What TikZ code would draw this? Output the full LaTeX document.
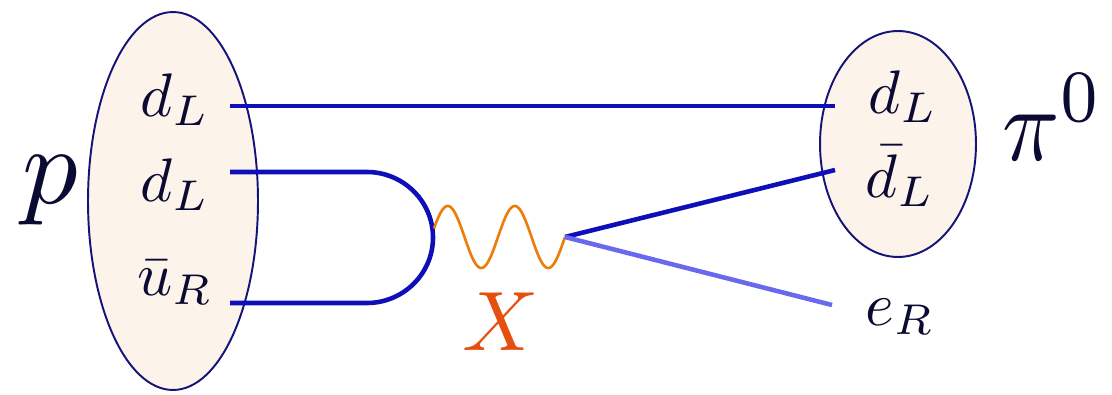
\documentclass[tikz,border=0pt]{standalone}
\usetikzlibrary{shapes.geometric}
\definecolor{quark}{RGB}{15,15,185}
\definecolor{lepton}{RGB}{105,105,240}
\definecolor{hadfill}{RGB}{252,243,234}
\definecolor{hadline}{RGB}{20,20,120}
\definecolor{wavec}{RGB}{235,125,10}
\definecolor{xcol}{RGB}{230,80,15}
\definecolor{labc}{RGB}{10,10,50}
\begin{document}
\begin{tikzpicture}[x=0.02cm,y=-0.02cm,
  hadron/.style={ellipse,draw=hadline,fill=hadfill,line width=1.1pt,inner sep=0pt},
  mlab/.style={inner sep=0pt,anchor=base,text=labc,font=\normalsize},
  qlab/.style={mlab,scale=3.5},
  qline/.style={draw=quark,line width=2.6pt},
  lline/.style={draw=lepton,line width=2.6pt},
  wave/.style={draw=wavec,line width=1.5pt}]
\useasboundingbox (0,0) rectangle (1112,395);
% hadrons
\node[hadron,minimum width=3.4cm,minimum height=7.56cm] (proton) at (173,201) {};
\node[hadron,minimum width=3.12cm,minimum height=4.52cm] (pion) at (898,144) {};
% labels
\node[mlab,scale=6.3] (plab) at (50,203) {$p$};
\node[mlab,xscale=5.4,yscale=6.0] (pilab) at (1053,160) {$\pi^0$};
\node[mlab,text=xcol,scale=4.8] (xlab) at (501,350) {$X$};
\node[qlab] (q1) at (175,116) {$d_L$};
\node[qlab] (q2) at (175,201) {$d_L$};
\node[qlab] (q3) at (175,295) {$\bar u_R$};
\node[qlab] (q4) at (903,113) {$d_L$};
\node[qlab] (q5) at (900,197) {$\bar d_L$};
\node[qlab] (q6) at (900,325) {$e_R$};
% connector coordinates
\coordinate (a1) at (230,106);
\coordinate (a2) at (835,106);
\coordinate (b1) at (230,172);
\coordinate (b2) at (367,172);
\coordinate (c1) at (230,303);
\coordinate (c2) at (367,303);
\coordinate (tip) at (433,237.5);
\coordinate (vtx) at (565,237);
\coordinate (dbar) at (835,170);
\coordinate (eend) at (832,305);
% quark lines
\draw[qline] (a1) -- (a2);
\draw[qline] (b1) -- (b2) .. controls (403,172) and (433,201) .. (tip)
  .. controls (433,274) and (403,303) .. (c2) -- (c1);
% X boson
\draw[wave] plot[domain=434:565,samples=120,smooth] (\x,{237-31*sin(5.3731*(\x-431))});
% outgoing lines
\draw[qline] (vtx) -- (dbar);
\draw[lline] (vtx) -- (eend);
\end{tikzpicture}
\end{document}
